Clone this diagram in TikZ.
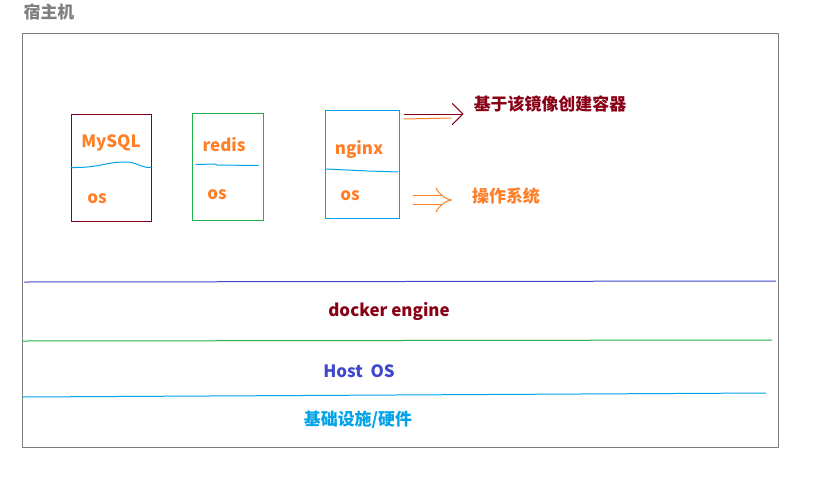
\documentclass[tikz,border=0pt]{standalone}
\usepackage{fontspec}
\usepackage{tikz}
\usetikzlibrary{positioning}
\usetikzlibrary{calc}
\usetikzlibrary{arrows.meta}
\newfontfamily\cjk{Noto Sans CJK SC}
\definecolor{pdarkred}{HTML}{880015}
\definecolor{porange}{HTML}{FF7F27}
\definecolor{pgreen}{HTML}{22B14C}
\definecolor{pindigo}{HTML}{3F48CC}
\definecolor{pturq}{HTML}{00A2E8}
\definecolor{pgray}{HTML}{7F7F7F}
\tikzstyle{lbl} = [inner sep=0pt, font=\cjk\bfseries\fontsize{12.7}{15}\selectfont]
\tikzstyle{ctr} = [draw, rectangle, inner sep=0pt, line width=0.75pt]
\tikzstyle{layer} = [line width=0.75pt]
\tikzstyle{sep} = [draw=pturq, line width=0.75pt]

\begin{document}
\begin{tikzpicture}[x=0.75pt,y=-0.75pt]
    \useasboundingbox (0,0) rectangle (813,479);
    \node [lbl, text=pgray] (hosttitle) at (49,12) {宿主机};
    \node [ctr, draw=pgray, minimum width=567pt, minimum height=310.5pt] (hostbox) at (400,240) {};

    % containers
    \node [ctr, draw=pdarkred, minimum width=60pt, minimum height=80.25pt] (mysql) at (111,167.5) {};
    \node [lbl, text=porange] (mysqlimg) at (111,143) {MySQL};
    \node [lbl, text=porange] (mysqlos) at (97,199) {os};
    \draw [sep] (mysql.west) .. controls (100,168) and (105,162) .. (125,162) .. controls (138,162) and (140,168) .. (mysql.east);

    \node [ctr, draw=pgreen, minimum width=53.25pt, minimum height=80.25pt] (redis) at (227.5,166.5) {};
    \node [lbl, text=porange] (redisimg) at (224,145) {redis};
    \node [lbl, text=porange] (redisos) at (217,195) {os};
    \draw [sep] ($(redis.west)+(4,-2)$) -- (215,164) -- (217,165) -- ($(redis.east)+(-5,-1)$);

    \node [ctr, draw=pturq, minimum width=55.5pt, minimum height=81pt] (nginx) at (362,164) {};
    \node [lbl, text=porange] (nginximg) at (359,149) {nginx};
    \node [lbl, text=porange] (nginxos) at (350,196) {os};
    \draw [sep] ($(nginx.west)+(1,5)$) -- (368,171) -- ($(nginx.east)+(-1,8)$);

    \node [lbl, text=pdarkred] (imgnote) at (550,104) {基于该镜像创建容器};
    \node [lbl, text=porange] (osnote) at (506,196) {操作系统};

    \draw [pdarkred, line width=0.75pt, -{Straight Barb[length=8pt,width=16pt]}] ($(nginx.east |- imgnote)+(4,10)$) -- ($(imgnote.west)+(-10,10)$);
    \draw [porange, line width=0.75pt] ($(nginx.east |- imgnote)+(4,15)$) -- ($(imgnote.west)+(-22,14)$);
    \draw [porange, line width=0.75pt, double, double distance=6pt, -Implies] ($(nginx.east |- osnote)+(13,4)$) -- ($(osnote.west)+(-20,4)$);

    % layers
    \draw [layer, pindigo] (24,282) -- (776,281);
    \node [lbl, text=pdarkred] (engine) at (389,311) {docker engine};
    \draw [layer, pgreen] (22,341) -- (772,340);
    \node [lbl, text=pindigo] (hostos) at (359,371) {Host\ \ OS};
    \draw [layer, pturq] (22,397) -- (766,393);
    \node [lbl, text=pturq] (infra) at (358,420) {基础设施/硬件};
\end{tikzpicture}
\end{document}
